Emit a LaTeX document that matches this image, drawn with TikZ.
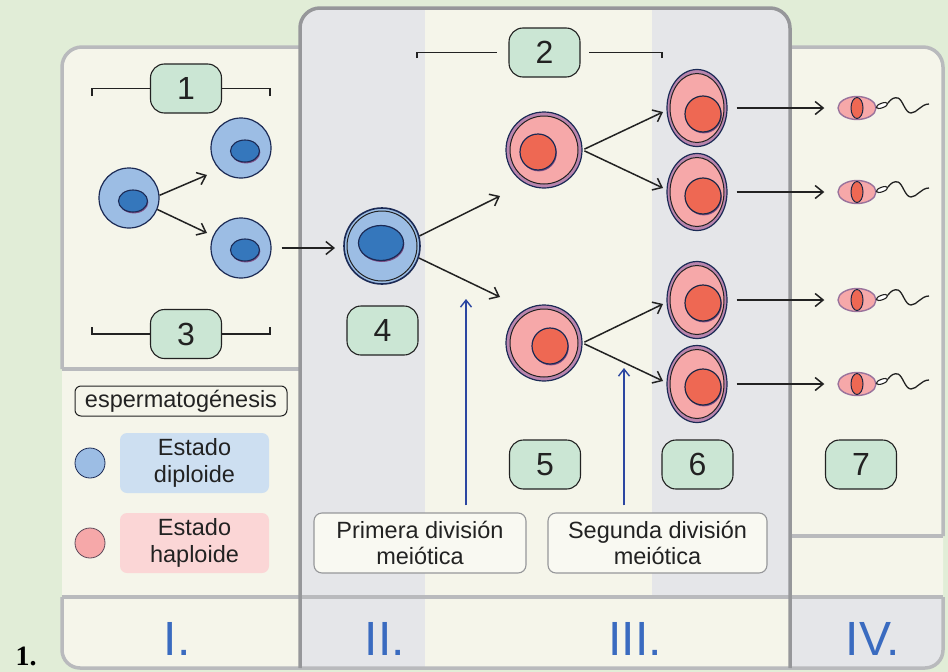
\documentclass[tikz,border=0pt]{standalone}
\usepackage{fontspec}
\setmainfont{Liberation Sans}
\newfontfamily\captionserif{Liberation Serif}
\usetikzlibrary{arrows.meta,shapes.geometric}
\definecolor{bggreen}{HTML}{E1EDD7}
\definecolor{cream}{HTML}{F5F5EA}
\definecolor{panelgray}{HTML}{E5E6E9}
\definecolor{lightborder}{HTML}{B9BABD}
\definecolor{darkborder}{HTML}{96979A}
\definecolor{lblgreen}{HTML}{CBE6D4}
\definecolor{bluecell}{HTML}{9CBDE4}
\definecolor{bluenuc}{HTML}{3577BC}
\definecolor{navy}{HTML}{1B2A55}
\definecolor{pinkcell}{HTML}{F6A8A9}
\definecolor{pinkring}{HTML}{B985AE}
\definecolor{rednuc}{HTML}{EE6853}
\definecolor{nucshadow}{HTML}{7E4F86}
\definecolor{legblue}{HTML}{CDDFF1}
\definecolor{legpink}{HTML}{FBD6D6}
\definecolor{numblue}{HTML}{3A6BC0}
\definecolor{arrowblue}{HTML}{2B46A1}
\definecolor{ink}{HTML}{222222}
\begin{document}
\begin{tikzpicture}[x=1pt,y=-1pt,
  bcell/.style={circle, draw=navy, line width=1.2pt, fill=bluecell, inner sep=0pt, minimum size=#1},
  ringcell/.style={circle, draw=navy, line width=1.2pt, fill=pinkring, inner sep=0pt, minimum size=#1},
  ovalcell/.style={ellipse, draw=navy, line width=1.2pt, fill=pinkring, inner sep=0pt, minimum width=60pt, minimum height=77pt},
  spermhead/.style={ellipse, draw=pinkring!80!navy, line width=1.4pt, fill=pinkcell, inner sep=0pt, minimum width=38pt, minimum height=23pt},
  arr/.style={draw=ink, line width=1.5pt, -{Straight Barb[length=8pt,width=13pt,line width=1.5pt]}},
  barr/.style={draw=arrowblue, line width=1.4pt, -{Straight Barb[length=7pt,width=11pt,line width=1.4pt]}},
  lbl/.style={draw=ink, line width=1.1pt, fill=lblgreen, rounded corners=14pt, minimum width=71pt, minimum height=49pt, inner sep=0pt, text=ink, font=\fontsize{32}{32}\selectfont},
  bracketline/.style={draw=ink, line width=1.3pt},
  txtbox/.style={draw=darkborder, line width=1.1pt, fill=cream!60!white, rounded corners=8pt, inner sep=0pt, align=center, text=ink, font=\fontsize{23.5}{26}\selectfont},
  legrect/.style={rounded corners=7pt, inner sep=0pt, minimum width=149pt, minimum height=60pt, align=center, text=ink, font=\fontsize{23.5}{27}\selectfont},
  numeral/.style={anchor=base, text=numblue, font=\fontsize{48}{48}\selectfont},
  panelline/.style={line width=3.5pt}
]
\useasboundingbox (0,0) rectangle (948,672);
\fill[bggreen] (0,0) rectangle (948,672);

% ---- panel backgrounds ----
\fill[cream, rounded corners=20pt] (62,47) rectangle (320,668);
\fill[cream, rounded corners=20pt] (770,47) rectangle (943,668);
\begin{scope}
  \clip (0,0) rectangle (948,668);
  \fill[panelgray, rounded corners=20pt] (300,8) rectangle (790,700);
\end{scope}
\fill[cream] (425,10) rectangle (652,668);
\fill[cream] (652,597) rectangle (790,668);
\begin{scope}
  \clip (790,597) rectangle (948,668);
  \fill[panelgray, rounded corners=20pt] (760,560) rectangle (943,668);
\end{scope}

% ---- panel outlines ----
\draw[lightborder, panelline, rounded corners=20pt] (62,369) -- (62,47) -- (300,47);
\draw[lightborder, panelline] (62,369) -- (300,369);
\draw[lightborder, panelline, rounded corners=20pt] (790,47) -- (943,47) -- (943,536);
\draw[lightborder, panelline] (790,536) -- (943,536);
\draw[lightborder, panelline] (62,597) -- (943,597);
\draw[lightborder, panelline, rounded corners=18pt] (62,597) -- (62,668) -- (943,668) -- (943,597);
\draw[darkborder, panelline, rounded corners=20pt] (300,668) -- (300,8) -- (790,8) -- (790,668);

% ---- stage labels and brackets ----
\node[lbl] (L1) at (186,88.5) {1};
\node[lbl] (L2) at (544.5,52.5) {2};
\node[lbl] (L3) at (186,334) {3};
\node[lbl] (L4) at (382.5,330.5) {4};
\node[lbl] (L5) at (545,464.5) {5};
\node[lbl] (L6) at (697.5,464.5) {6};
\node[lbl] (L7) at (861,464.5) {7};

\coordinate (b1l) at (92,96);  \coordinate (b1r) at (270,96);
\coordinate (b3l) at (92,327); \coordinate (b3r) at (270,327);
\coordinate (b2l) at (417,58); \coordinate (b2r) at (662,58);
\draw[bracketline] (b1l) |- (L1.west);
\draw[bracketline] (b1r) |- (L1.east);
\draw[bracketline] (b3l) |- (L3.west);
\draw[bracketline] (b3r) |- (L3.east);
\draw[bracketline, shorten >=11pt] (b2l) |- (L2.west);
\draw[bracketline, shorten >=8pt] (b2r) |- (L2.east);

% ---- diploid cells ----
\node[bcell=60pt] (A) at (129,198) {};
\node[bcell=60pt] (B) at (241,148) {};
\node[bcell=60pt] (C) at (241,248) {};
\foreach \cx/\cy in {133/201, 245/151, 245/250}{
  \fill[nucshadow] (\cx+0.8,\cy+1.4) ellipse[x radius=14.5pt, y radius=11pt];
  \draw[navy, line width=1.1pt, fill=bluenuc] (\cx,\cy) ellipse[x radius=14.5pt, y radius=11pt];
}
\node[bcell=76pt, line width=1.6pt] (D) at (382,246) {};
\draw[ink, line width=1pt] (D.center) circle[radius=35pt];
\fill[nucshadow] (381.8,244.5) ellipse[x radius=22.5pt, y radius=17.5pt];
\draw[navy, line width=1.2pt, fill=bluenuc] (381,243) ellipse[x radius=22.5pt, y radius=17.5pt];

% ---- haploid cells ----
\node[ringcell=76pt] (E1) at (544,150) {};
\node[ringcell=76pt] (E2) at (544,343) {};
\foreach \e/\nx/\ny in {E1/538/152, E2/550/346}{
  \draw[ink, line width=1pt, fill=pinkcell] (\e.center) circle[radius=34pt];
  \fill[nucshadow] (\nx+0.8,\ny+1.4) circle[radius=18pt];
  \draw[navy, line width=1.2pt, fill=rednuc] (\nx,\ny) circle[radius=18pt];
}
\node[ovalcell] (F1) at (697,108) {};
\node[ovalcell] (F2) at (697,192) {};
\node[ovalcell] (F3) at (697,300) {};
\node[ovalcell] (F4) at (697,384) {};
\foreach \f/\ny in {F1/114, F2/196, F3/303, F4/387}{
  \draw[ink, line width=1pt, fill=pinkcell] (\f.center) ellipse[x radius=27pt, y radius=34.5pt];
  \fill[nucshadow] (703.8,\ny+1.4) circle[radius=18pt];
  \draw[navy!70!ink, line width=1.2pt, fill=rednuc] (703,\ny) circle[radius=18pt];
}

% ---- spermatozoa ----
\foreach \s/\sy in {S1/108, S2/192, S3/300, S4/384}{
  \node[spermhead] (\s) at (857,\sy) {};
  \begin{scope}[shift={(\s.center)}]
    \draw[navy!70!ink, line width=1pt, fill=rednuc] (0,0) ellipse[x radius=6pt, y radius=10.5pt];
    \draw[ink, line width=1.1pt, fill=white, rotate around={20:(25,-2.5)}] (25,-2.5) ellipse[x radius=6pt, y radius=2.3pt];
    \draw[ink, line width=1.3pt] (31,-5) .. controls (34,-9) and (37,-11) .. (41,-10)
      .. controls (46,-8) and (48,5) .. (54,5) .. controls (60,5) and (64,-4) .. (72,-4);
  \end{scope}
}

% ---- division arrows ----
\coordinate (a1) at (207,175);
\coordinate (a2) at (207,233);
\coordinate (a3) at (335,248);
\coordinate (a4) at (500,196);
\coordinate (a5) at (500,297);
\coordinate (a6) at (663,112);
\coordinate (a7) at (663,188);
\coordinate (a8) at (663,304);
\coordinate (a9) at (663,381);
\draw[arr] (A.5) -- (a1);
\draw[arr] (A.-22) -- (a2);
\draw[arr, shorten <=10pt] (C.east) -- (a3);
\draw[arr] (D.15) -- (a4);
\draw[arr] (D.-18) -- (a5);
\draw[arr, shorten <=2pt] (E1.east) -- (a6);
\draw[arr, shorten <=2pt] (E1.east) -- (a7);
\draw[arr, shorten <=2pt] (E2.east) -- (a8);
\draw[arr, shorten <=2pt] (E2.east) -- (a9);
\foreach \k in {1,2,3,4}{
  \draw[arr, shorten <=9pt, shorten >=13pt] (F\k.east) -- (S\k.west);
}

% ---- meiosis captions ----
\node[txtbox, minimum width=212pt, minimum height=60pt] (PDM) at (420,543) {Primera división\\meiótica};
\node[txtbox, minimum width=219pt, minimum height=60pt] (SDM) at (657.5,543) {Segunda división\\meiótica};
\coordinate (p1) at (466,299);
\coordinate (p2) at (624,368);
\draw[barr, shorten <=7pt] (PDM.north -| p1) -- (p1);
\draw[barr, shorten <=7pt] (SDM.north -| p2) -- (p2);

% ---- legend ----
\node[draw=ink, line width=1pt, fill=cream, rounded corners=6pt, minimum width=212pt, minimum height=30pt, inner sep=0pt, text=ink, font=\fontsize{23.5}{27}\selectfont] (esp) at (181,401) {espermatogénesis};
\node[circle, draw=navy, line width=0.8pt, fill=bluecell, minimum size=30pt, inner sep=0pt] (dip) at (90,463) {};
\node[legrect, fill=legblue] (dipbox) at (194.5,463) {Estado\\diploide};
\node[circle, draw=ink!60!pinkring, line width=0.8pt, fill=pinkcell, minimum size=30pt, inner sep=0pt] (hap) at (90,543) {};
\node[legrect, fill=legpink] (hapbox) at (194.5,543) {Estado\\haploide};

% ---- phase numerals ----
\node[numeral] (n1) at (177,655) {I.};
\node[numeral] (n2) at (385,655) {II.};
\node[numeral] (n3) at (635,655) {III.};
\node[numeral] (n4) at (873,655) {IV.};

\node[anchor=base west, text=black, font=\captionserif\bfseries\fontsize{28}{28}\selectfont] (fig) at (12,665) {1.};
\end{tikzpicture}
\end{document}
